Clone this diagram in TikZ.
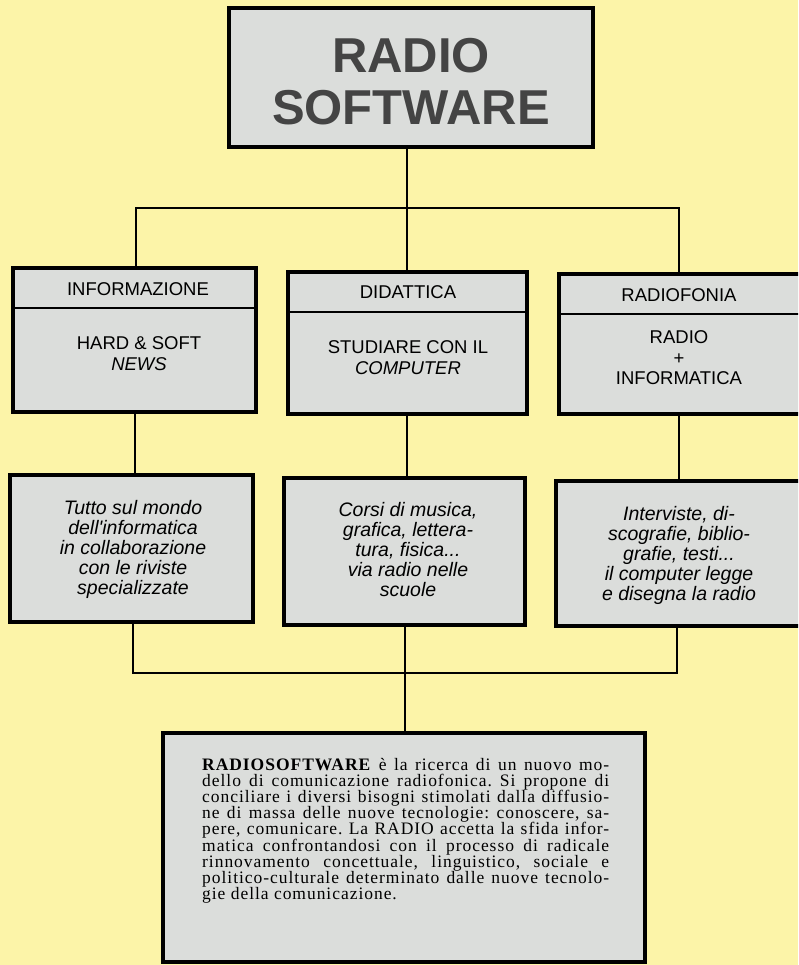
\documentclass[tikz,border=0pt]{standalone}
\usepackage{fontspec}
\setmainfont{Liberation Serif}
\newfontfamily\boxfont{Liberation Sans}
\newfontfamily\bodyfont[LetterSpace=5.5]{Liberation Serif}
\definecolor{bgyellow}{RGB}{252,244,168}
\definecolor{boxgray}{RGB}{219,221,219}
\definecolor{titlegray}{RGB}{68,68,68}
\newlength{\desclinew}
\setlength{\desclinew}{407pt}
\newcommand{\dline}[1]{\makebox[\desclinew][s]{#1}\par}
\frenchspacing
\begin{document}
\begin{tikzpicture}[x=1pt,y=-1pt,
  boxstyle/.style={draw=black, line width=3.2pt, fill=boxgray, rectangle, inner sep=0pt, outer sep=0pt, anchor=north west},
  conn/.style={draw=black, line width=1.8pt},
  divider/.style={draw=black, line width=2.2pt},
  titlestyle/.style={font=\boxfont\bfseries\fontsize{49}{52}\selectfont, text=titlegray, inner sep=0pt, anchor=base, align=center},
  hdr/.style={font=\boxfont\fontsize{18.5}{20.5}\selectfont, inner sep=0pt, anchor=base, align=center},
  itl/.style={font=\boxfont\itshape\fontsize{19.5}{20}\selectfont, inner sep=0pt, anchor=base, align=center}
]
\useasboundingbox (0,0) rectangle (798,965);
\fill[bgyellow] (0,0) rectangle (798,965);
\clip (0,0) rectangle (798,965);

% title (anchor at baseline of last line)
\node[boxstyle, minimum width=364, minimum height=139] (title) at (229,8) {};
\node[titlestyle] (titletext) at (411,124.5) {RADIO\\SOFTWARE};

% first row
\node[boxstyle, minimum width=243, minimum height=144] (info) at (13,268) {};
\node[boxstyle, minimum width=239, minimum height=142] (dida) at (288,272) {};
\node[boxstyle, minimum width=243, minimum height=140] (radio) at (559,274) {};
\draw[divider] (info.west |- 0,308) -- (info.east |- 0,308);
\draw[divider] (dida.west |- 0,312) -- (dida.east |- 0,312);
\draw[divider] (radio.west |- 0,314) -- (radio.east |- 0,314);

\node[hdr] (infoh) at (138,295.6) {INFORMAZIONE};
\node[hdr] (infob) at (139,370) {HARD \& SOFT\\\textit{NEWS}};
\node[hdr] (didah) at (408,298.6) {DIDATTICA};
\node[hdr] (didab) at (408,374) {STUDIARE CON IL\\\textit{COMPUTER}};
\node[hdr] (radioh) at (679,301.6) {RADIOFONIA};
\node[hdr] (radiob) at (679,384.6) {RADIO\\+\\INFORMATICA};

% second row
\node[boxstyle, minimum width=243, minimum height=147] (tutto) at (10,475) {};
\node[boxstyle, minimum width=241, minimum height=147] (corsi) at (284,478) {};
\node[boxstyle, minimum width=246, minimum height=145] (inter) at (556,481) {};

\node[itl] (tuttot) at (133,594) {Tutto sul mondo\\dell'informatica\\in collaborazione\\con le riviste\\specializzate};
\node[itl] (corsit) at (408,596) {Corsi di musica,\\grafica, lettera-\\tura, fisica...\\via radio nelle\\scuole};
\node[itl] (intert) at (679,600) {Interviste, di-\\scografie, biblio-\\grafie, testi...\\il computer legge\\e disegna la radio};

% bottom description
\node[boxstyle, minimum width=482, minimum height=229] (desc) at (163,733) {};
\node[anchor=base west, inner sep=0pt, font=\bodyfont\fontsize{17.5}{16.2}\selectfont] (desctext) at (202,770) {%
\begin{minipage}[t]{407pt}\setlength{\parindent}{0pt}\setlength{\parskip}{0pt}\setlength{\baselineskip}{16.2pt}\setlength{\lineskiplimit}{-100pt}%
\dline{\textbf{RADIOSOFTWARE} è la ricerca di un nuovo mo-}
\dline{dello di comunicazione radiofonica. Si propone di}
\dline{conciliare i diversi bisogni stimolati dalla diffusio-}
\dline{ne di massa delle nuove tecnologie: conoscere, sa-}
\dline{pere, comunicare. La RADIO accetta la sfida infor-}
\dline{matica confrontandosi con il processo di radicale}
\dline{rinnovamento concettuale, linguistico, sociale e}
\dline{politico-culturale determinato dalle nuove tecnolo-}
gie della comunicazione.\par
\end{minipage}};

% connectors
\coordinate (busA) at (407,208);
\coordinate (busB) at (405,673);
\draw[conn] (title.south -| busA) -- (busA);
\draw[conn] (info.north -| 136,0) |- (busA) -| (radio.north -| 679,0);
\draw[conn] (busA) -- (dida.north -| busA);
\draw[conn] (info.south -| 135,0) -- (tutto.north -| 135,0);
\draw[conn] (dida.south -| busA) -- (corsi.north -| busA);
\draw[conn] (radio.south -| 679,0) -- (inter.north -| 679,0);
\draw[conn] (tutto.south -| 133,0) |- (busB) -| (inter.south -| 677,0);
\draw[conn] (corsi.south -| busB) -- (desc.north -| busB);
\end{tikzpicture}
\end{document}
